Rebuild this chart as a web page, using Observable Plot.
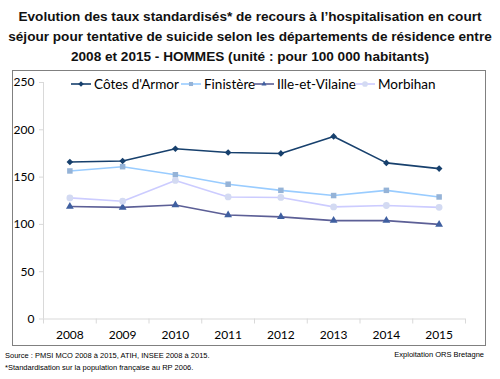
<!DOCTYPE html>
<html><head><meta charset="utf-8">
<script src="https://cdn.jsdelivr.net/npm/d3@7"></script>
<script src="https://cdn.jsdelivr.net/npm/@observablehq/plot@0.6"></script>
<style>
body{margin:0;background:#fff;}
#root{position:relative;width:500px;height:379px;overflow:hidden;font-family:"Liberation Sans",Arial,sans-serif;}
#title{position:absolute;left:0;top:7px;width:500px;text-align:center;font-weight:bold;font-size:13.6px;line-height:20px;color:#111;}
#sep{position:absolute;left:15px;top:66px;width:470px;height:1px;background:#eee;}
#box{position:absolute;left:12px;top:70px;width:472px;height:274px;border:1px solid #808080;}
#chart{position:absolute;left:0;top:67px;}
#legend{position:absolute;top:76px;left:0;font-family:Lato,"Open Sans",sans-serif;font-size:13.5px;color:#000;}
.li{position:absolute;white-space:nowrap;display:flex;align-items:center;}
.li svg{margin-right:2px;}
#src{position:absolute;left:5px;top:350px;font-size:7.5px;line-height:12px;color:#000;}
#expl{position:absolute;right:16px;top:350px;font-size:7.5px;color:#000;}
</style></head>
<body><div id="root">
<div id="title">Evolution des taux standardisés* de recours à l’hospitalisation en court<br>séjour pour tentative de suicide selon les départements de résidence entre<br>2008 et 2015 - HOMMES (unité : pour 100 000 habitants)</div>
<div id="box"></div>
<div id="chart"></div>
<div id="legend"></div>
<div id="src">Source : PMSI MCO 2008 à 2015, ATIH, INSEE 2008 à 2015.<br>*Standardisation sur la population française au RP 2006.</div>
<div id="expl">Exploitation ORS Bretagne</div>
</div>
<script>
const years = [2008, 2009, 2010, 2011, 2012, 2013, 2014, 2015];
const cotesArmor = [166, 167, 180, 176, 175, 193, 165, 159];
const finistere = [156.5, 161, 152.5, 142.5, 136, 130.5, 136, 129];
const illeEtVilaine = [119, 118, 120.5, 110, 108, 104, 104, 100];
const morbihan = [128, 124.5, 146.5, 129, 128.5, 118.5, 120, 118];
const seriesNames = ["Côtes d'Armor", "Finistère", "Ille-et-Vilaine", "Morbihan"];
const seriesValues = [cotesArmor, finistere, illeEtVilaine, morbihan];
const yTicks = [0, 50, 100, 150, 200, 250];

const styles = [
  {line: "#17406D", fill: "#17406D", symbol: "diamond2", r: 3.0},
  {line: "#99CCFF", fill: "#95B3D7", symbol: "square", r: 3.1},
  {line: "#5C5F96", fill: "#3F5FA0", symbol: "triangle", r: 2.9},
  {line: "#CCCCFF", fill: "#D3DAF2", symbol: "circle", r: 3.4}
];

const data = [];
seriesNames.forEach((s, i) => years.forEach((y, j) => data.push({series: s, year: y, value: seriesValues[i][j], idx: i})));
const bounds = d3.range(years.length + 1).map(i => years[0] - 0.5 + i);

const marks = [
  Plot.axisY({ticks: yTicks, tickSize: 4, tickPadding: 5, stroke: "#D9D9D9", fontSize: 12, label: null}),
  Plot.ruleX([years[0] - 0.5], {stroke: "#D9D9D9"}),
  Plot.ruleY([0], {stroke: "#D9D9D9"}),
  Plot.axisX({ticks: bounds, tickSize: 5, tickFormat: () => "", stroke: "#D9D9D9", label: null}),
  Plot.axisX({ticks: years, tickSize: 0, tickPadding: 11, tickFormat: d => String(d), fontSize: 12, label: null})
];
seriesNames.forEach((s, i) => {
  const d = data.filter(r => r.idx === i);
  marks.push(Plot.line(d, {x: "year", y: "value", stroke: styles[i].line, strokeWidth: 1.6}));
});
seriesNames.forEach((s, i) => {
  const d = data.filter(r => r.idx === i);
  marks.push(Plot.dot(d, {x: "year", y: "value", fill: styles[i].fill, stroke: "none", symbol: () => styles[i].symbol, r: styles[i].r}));
});

const plot = Plot.plot({
  width: 500, height: 282,
  marginTop: 15, marginBottom: 30.5, marginLeft: 43, marginRight: 35,
  style: {fontFamily: "Lato, 'Open Sans', sans-serif", fontSize: "12px", color: "#000", background: "transparent"},
  x: {domain: [years[0] - 0.5, years[years.length - 1] + 0.5], axis: null},
  y: {domain: [0, 250], axis: null},
  symbol: {type: "identity"},
  marks
});
document.getElementById("chart").appendChild(plot);

// legend
const legendX = [70, 180, 253, 354];
const leg = document.getElementById("legend");
seriesNames.forEach((s, i) => {
  const st = styles[i];
  const div = document.createElement("div");
  div.className = "li";
  div.style.left = legendX[i] + "px";
  const type = st.symbol === "diamond2" ? d3.symbolDiamond2 : st.symbol === "square" ? d3.symbolSquare2 : st.symbol === "triangle" ? d3.symbolTriangle2 : d3.symbolCircle2;
  const sym = d3.symbol(type, st.r * st.r * Math.PI * 0.7)();
  div.innerHTML = `<svg width="22" height="12"><line x1="1" x2="21" y1="6" y2="6" stroke="${st.line}" stroke-width="1.6"/><path transform="translate(11,6)" d="${sym}" fill="${st.fill}"/></svg><span>${s}</span>`;
  leg.appendChild(div);
});
</script>
</body></html>
